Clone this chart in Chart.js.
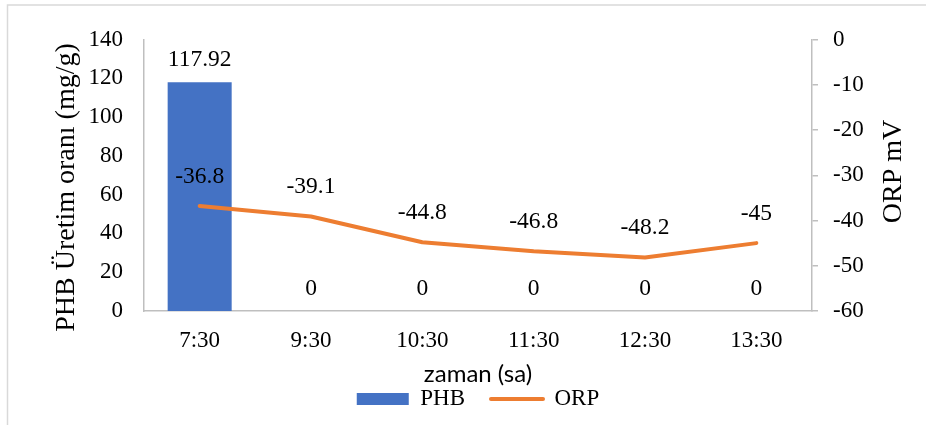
<!DOCTYPE html>
<html>
<head>
<meta charset="utf-8">
<script src="https://cdn.jsdelivr.net/npm/chart.js@4/dist/chart.umd.min.js"></script>
<style>
  html, body { margin: 0; padding: 0; background: #ffffff; }
  #wrap { width: 926px; height: 425px; position: relative; }
</style>
</head>
<body>
<div id="wrap"><canvas id="c" width="926" height="425"></canvas></div>
<script>
// Sampling times and the two measured series
const categories = ['7:30', '9:30', '10:30', '11:30', '12:30', '13:30'];
const phbValues = [117.92, 0, 0, 0, 0, 0];
const orpValues = [-36.8, -39.1, -44.8, -46.8, -48.2, -45];

// Axis ranges
const phbAxis = { min: 0, max: 140, step: 20 };
const orpAxis = { min: -60, max: 0, step: 10 };

// Text
const seriesNames = ['PHB', 'ORP'];
const leftTitle = 'PHB Üretim oranı (mg/g)';
const rightTitle = 'ORP mV';
const bottomTitle = 'zaman (sa)';

const SERIF = '"Liberation Serif", "Times New Roman", serif';
const BLUE = '#4472C4';
const ORANGE = '#ED7D31';
const AXIS = '#BFBFBF';

// Light frame around the whole figure
const framePlugin = {
  id: 'frame',
  beforeDraw(chart) {
    const ctx = chart.ctx;
    ctx.save();
    ctx.fillStyle = '#ffffff';
    ctx.fillRect(0, 0, chart.width, chart.height);
    ctx.strokeStyle = '#D9D9D9';
    ctx.lineWidth = 1.5;
    ctx.strokeRect(7.5, 5, chart.width + 20, chart.height + 20);
    ctx.restore();
  }
};

// Value labels above bars and line points
const valueLabels = {
  id: 'valueLabels',
  afterDatasetsDraw(chart) {
    const ctx = chart.ctx;
    ctx.save();
    ctx.font = '23.5px ' + SERIF;
    ctx.fillStyle = '#000';
    ctx.textAlign = 'center';
    ctx.textBaseline = 'alphabetic';
    chart.data.datasets.forEach((ds, di) => {
      const meta = chart.getDatasetMeta(di);
      meta.data.forEach((el, i) => {
        const v = ds.data[i];
        const lift = ds.type === 'bar' ? 16.5 : 23.5;
        ctx.fillText(String(v), el.x, el.y - lift);
      });
    });
    ctx.restore();
  }
};

// Axis titles
const axisTitles = {
  id: 'axisTitles',
  afterDraw(chart) {
    const ctx = chart.ctx;
    const a = chart.chartArea;
    ctx.save();
    ctx.fillStyle = '#000';
    ctx.textAlign = 'center';
    ctx.textBaseline = 'alphabetic';
    ctx.font = '28px ' + SERIF;
    ctx.save();
    ctx.translate(74, 187.5);
    ctx.rotate(-Math.PI / 2);
    ctx.fillText(leftTitle, 0, 0);
    ctx.restore();
    ctx.save();
    ctx.translate(901, 171.5);
    ctx.rotate(-Math.PI / 2);
    ctx.fillText(rightTitle, 0, 0);
    ctx.restore();
    ctx.font = '24px Lato, "Open Sans", sans-serif';
    ctx.fillText(bottomTitle, (a.left + a.right) / 2, 382);
    ctx.restore();
  }
};

const chart = new Chart(document.getElementById('c'), {
  data: {
    labels: categories,
    datasets: [
      {
        type: 'bar',
        label: seriesNames[0],
        data: phbValues,
        backgroundColor: BLUE,
        borderWidth: 0,
        yAxisID: 'y',
        order: 1,
        barPercentage: 0.575,
        categoryPercentage: 1
      },
      {
        type: 'line',
        label: seriesNames[1],
        data: orpValues,
        borderColor: ORANGE,
        backgroundColor: ORANGE,
        borderWidth: 4,
        borderCapStyle: 'round',
        borderJoinStyle: 'round',
        pointRadius: 0,
        tension: 0,
        fill: false,
        yAxisID: 'y1',
        order: 0
      }
    ]
  },
  options: {
    responsive: false,
    animation: false,
    devicePixelRatio: 1,
    layout: { padding: { top: 39.5, left: 0, right: 0, bottom: 4.5 } },
    plugins: {
      tooltip: { enabled: false },
      legend: {
        position: 'bottom',
        fullSize: false,
        labels: {
          usePointStyle: true,
          pointStyleWidth: 52,
          boxHeight: 12,
          padding: 26,
          color: '#000',
          font: { family: SERIF, size: 23 },
          generateLabels(chart) {
            return chart.data.datasets.map((ds, i) => ({
              text: ds.label,
              fillStyle: ds.backgroundColor,
              strokeStyle: ds.type === 'line' ? ds.borderColor : ds.backgroundColor,
              lineWidth: ds.type === 'line' ? 4 : 0,
              lineCap: 'round',
              pointStyle: ds.type === 'line' ? 'line' : 'rect',
              fontColor: '#000',
              hidden: false,
              datasetIndex: i
            }));
          }
        }
      }
    },
    scales: {
      x: {
        type: 'category',
        offset: true,
        afterFit(s) { s.height = 50.5; },
        grid: { display: false, drawTicks: false },
        border: { display: true, color: AXIS, width: 1.5 },
        ticks: {
          color: '#000',
          padding: 16,
          font: { family: SERIF, size: 23 },
          maxRotation: 0,
          autoSkip: false
        }
      },
      y: {
        position: 'left',
        min: phbAxis.min,
        max: phbAxis.max,
        afterFit(s) { s.width = 144; },
        grid: { display: false, drawTicks: false },
        border: { display: true, color: AXIS, width: 1.5 },
        ticks: {
          stepSize: phbAxis.step,
          color: '#000',
          padding: 21,
          font: { family: SERIF, size: 23 }
        }
      },
      y1: {
        position: 'right',
        min: orpAxis.min,
        max: orpAxis.max,
        afterFit(s) { s.width = 114; },
        grid: {
          display: true,
          drawOnChartArea: false,
          drawTicks: true,
          tickLength: 6,
          color: AXIS,
          lineWidth: 1.5
        },
        border: { display: true, color: AXIS, width: 1.5 },
        ticks: {
          stepSize: orpAxis.step,
          color: '#000',
          padding: 15,
          font: { family: SERIF, size: 23 }
        }
      }
    }
  },
  plugins: [framePlugin, valueLabels, axisTitles]
});
</script>
</body>
</html>
